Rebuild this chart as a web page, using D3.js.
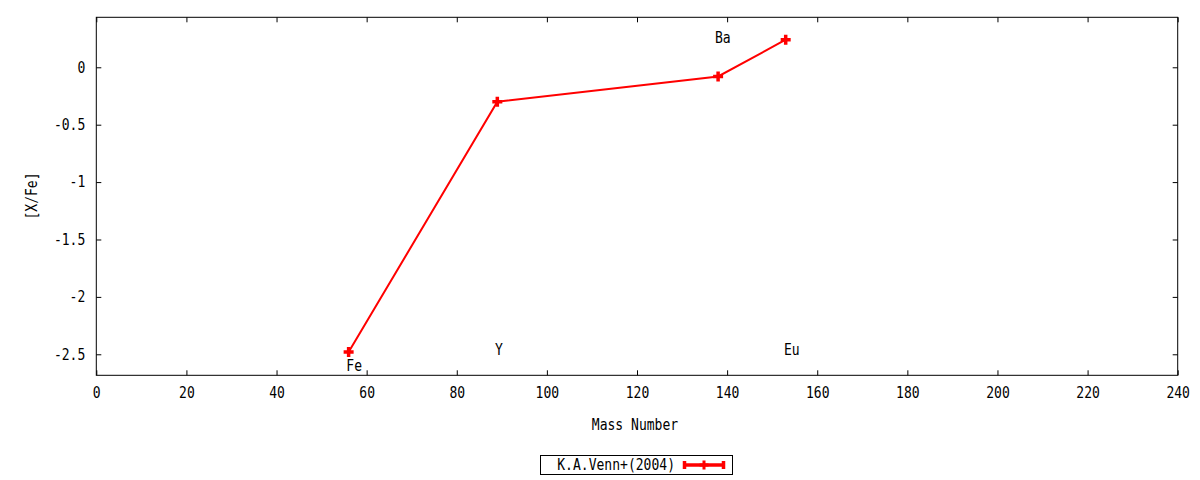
<!DOCTYPE html>
<html>
<head>
<meta charset="utf-8">
<script src="https://cdn.jsdelivr.net/npm/d3@7"></script>
<style>
  body { margin: 0; background: #fff; }
  svg text {
    font-family: "DejaVu Sans Mono", "Liberation Mono", monospace;
    font-size: 15px;
    fill: #000;
    transform-box: fill-box;
    transform-origin: center;
    transform: scaleX(0.87);
  }
  svg text.rt { transform-origin: right center; }
  svg text.lt { transform-origin: left center; }
</style>
</head>
<body>
<svg id="chart" width="1200" height="480"></svg>
<script>
// Data
const elements = ["Fe", "Y", "Ba", "Eu"];
const massNumbers = [56, 89, 138, 153];
const abundances = [-2.48, -0.30, -0.08, 0.24];

// label positions (data coordinates, as gnuplot "set label ... at")
const labelX = [55.5, 88.5, 137.3, 152.6];
const labelY = [-2.6, -2.46, 0.255, -2.46];

const xTicks = d3.range(0, 241, 20);
const yTicks = [0, -0.5, -1, -1.5, -2, -2.5];
const seriesName = "K.A.Venn+(2004)";

const margin = {top: 17.3, right: 22.3, bottom: 104.7, left: 96.3};
const width = 1200 - margin.left - margin.right;
const height = 480 - margin.top - margin.bottom;

const svg = d3.select("#chart");
const g = svg.append("g")
    .attr("transform", `translate(${margin.left},${margin.top})`);

const x = d3.scaleLinear().domain([0, 240]).range([0, width]);
const y = d3.scaleLinear().domain([-2.683, 0.4355]).range([height, 0]);

const tickLen = 5;

// Axes: labels on bottom/left, ticks pointing inward, mirrored on top/right
g.append("g")
    .attr("transform", `translate(0,${height})`)
    .call(d3.axisBottom(x).tickValues(xTicks).tickSize(-tickLen).tickPadding(12).tickFormat(d3.format("d")))
    .call(a => a.select(".domain").remove());
g.append("g")
    .call(d3.axisTop(x).tickValues(xTicks).tickSize(-tickLen).tickFormat(""))
    .call(a => a.select(".domain").remove());
g.append("g")
    .call(d3.axisLeft(y).tickValues(yTicks).tickSize(-tickLen).tickPadding(11).tickFormat(d => d === 0 ? "0" : String(d)))
    .call(a => a.select(".domain").remove())
    .call(a => a.selectAll(".tick text").attr("class", "rt"));
g.append("g")
    .attr("transform", `translate(${width},0)`)
    .call(d3.axisRight(y).tickValues(yTicks).tickSize(-tickLen).tickFormat(""))
    .call(a => a.select(".domain").remove());

g.selectAll(".tick line").attr("stroke", "#000");
g.selectAll(".tick text")
    .style("font-family", "DejaVu Sans Mono, monospace")
    .style("font-size", "15px")
    .attr("fill", "#000");

// Frame
g.append("rect")
    .attr("width", width)
    .attr("height", height)
    .attr("fill", "none")
    .attr("stroke", "#000")
    .attr("stroke-width", 1);

// Axis titles
svg.append("text")
    .attr("x", margin.left + width / 2 - 2)
    .attr("y", 425)
    .attr("dy", "0.35em")
    .attr("text-anchor", "middle")
    .text("Mass Number");
svg.append("g")
    .attr("transform", "translate(32,196) rotate(-90)")
  .append("text")
    .attr("dy", "0.35em")
    .attr("text-anchor", "middle")
    .text("[X/Fe]");

// Element labels
g.selectAll("text.elem")
    .data(elements)
    .enter().append("text")
    .attr("class", "elem lt")
    .attr("x", (d, i) => x(labelX[i]))
    .attr("y", (d, i) => y(labelY[i]))
    .attr("dy", "0.35em")
    .text(d => d);

// Series line
const points = massNumbers.map((m, i) => ({m: m, v: abundances[i]}));
const line = d3.line().x(d => x(d.m)).y(d => y(d.v));

g.append("path")
    .datum(points)
    .attr("d", line)
    .attr("fill", "none")
    .attr("stroke", "#ff0000")
    .attr("stroke-width", 2);

function plusPath(cx, cy, r) {
    return `M${cx - r},${cy}H${cx + r}M${cx},${cy - r}V${cy + r}`;
}

g.selectAll("path.pt")
    .data(points)
    .enter().append("path")
    .attr("class", "pt")
    .attr("d", d => plusPath(x(d.m), y(d.v), 5))
    .attr("stroke", "#ff0000")
    .attr("stroke-width", 3.5)
    .attr("fill", "none");

// Legend
const legend = svg.append("g");
legend.append("rect")
    .attr("x", 540.5)
    .attr("y", 455.5)
    .attr("width", 192)
    .attr("height", 19)
    .attr("fill", "none")
    .attr("stroke", "#000");
legend.append("text")
    .attr("class", "rt")
    .attr("x", 675)
    .attr("y", 465)
    .attr("dy", "0.35em")
    .attr("text-anchor", "end")
    .text(seriesName);
const ly = 465;
legend.append("path")
    .attr("d", `M683,${ly}H725M684.5,${ly - 4}V${ly + 4}M723.5,${ly - 4}V${ly + 4}`)
    .attr("stroke", "#ff0000")
    .attr("stroke-width", 3.5)
    .attr("fill", "none");
legend.append("path")
    .attr("d", plusPath(704, ly, 4.5))
    .attr("stroke", "#ff0000")
    .attr("stroke-width", 3)
    .attr("fill", "none");
</script>
</body>
</html>
